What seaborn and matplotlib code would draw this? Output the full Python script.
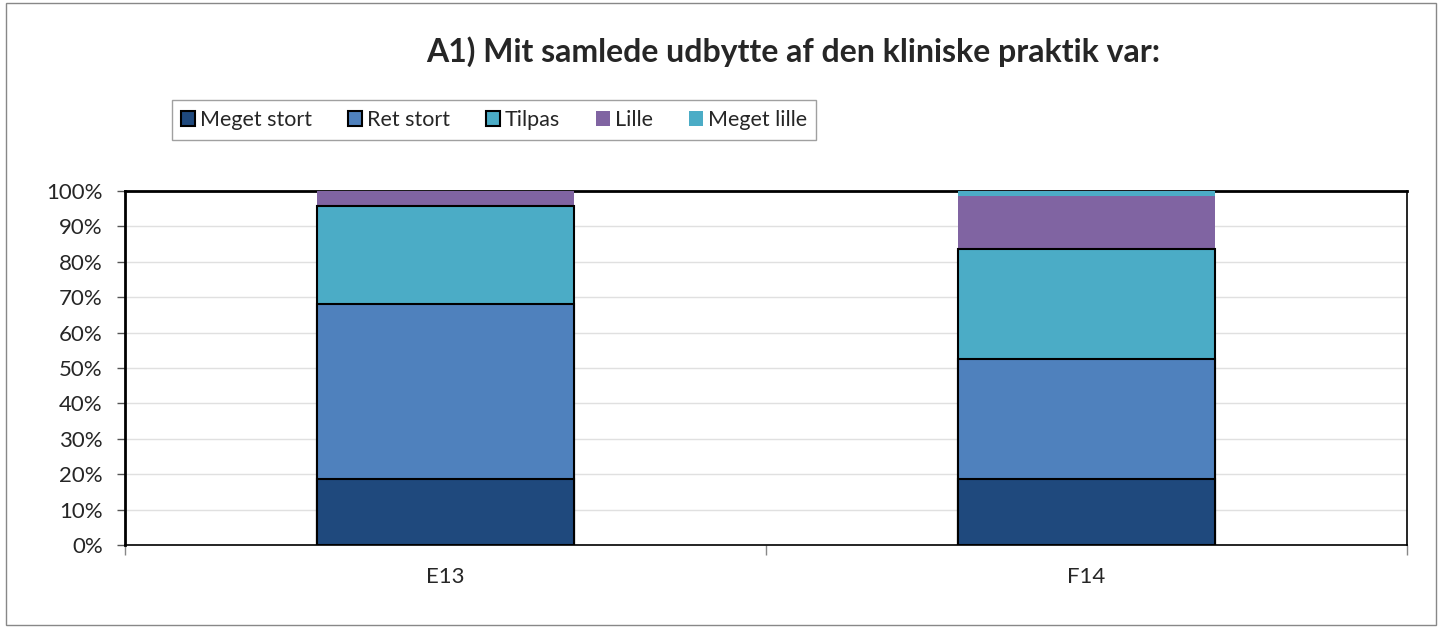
import pandas as pd
import numpy as np
import matplotlib
matplotlib.use('Agg')
import matplotlib.pyplot as plt
import seaborn as sns
from matplotlib.patches import Patch, Rectangle

# data (percent)
semesters = ['E13', 'F14']
levels = ['Meget stort', 'Ret stort', 'Tilpas', 'Lille', 'Meget lille']
meget_stort = [18.6, 18.6]
ret_stort = [49.5, 33.9]
tilpas = [27.7, 31.1]
lille = [4.2, 15.0]
meget_lille = [0.0, 1.4]

colors = ['#1F497D', '#4F81BD', '#4BACC6', '#8064A2', '#4BACC6']
edged = [True, True, True, False, False]

sns.set_style('white')
plt.rcParams['font.family'] = ['Lato', 'DejaVu Sans']

df = pd.DataFrame({'semester': semesters, 'Meget stort': meget_stort, 'Ret stort': ret_stort,
                   'Tilpas': tilpas, 'Lille': lille, 'Meget lille': meget_lille})
cum = df[levels].cumsum(axis=1)
cum['semester'] = df['semester']

fig = plt.figure(figsize=(14.42, 6.28), dpi=100)
ax = fig.add_axes([125 / 1442, 1 - 545 / 628, 1282 / 1442, 354 / 628])

# draw cumulative bars from top layer down so lower layers cover the upper ones
for lvl, col, e in reversed(list(zip(levels, colors, edged))):
    sns.barplot(data=cum, x='semester', y=lvl, color=col, width=0.4, ax=ax,
                edgecolor='black' if e else col, linewidth=1.5 if e else 0,
                saturation=1, zorder=3)

ax.set_ylim(0, 100)
ax.set_xlim(-0.5, 1.5)
ax.set_yticks(np.arange(0, 101, 10))
ax.set_yticklabels([f'{v}%' for v in range(0, 101, 10)], fontsize=16)
ax.set_xticks([0, 1])
ax.set_xticklabels(semesters, fontsize=16)
ax.set_xlabel('')
ax.set_ylabel('')
ax.yaxis.grid(True, color='#e0e0e0', linewidth=1, zorder=0)
ax.set_axisbelow(True)
for s in ax.spines.values():
    s.set_visible(True)
    s.set_color('black')
    s.set_linewidth(1.2)
ax.spines['left'].set_linewidth(2)
ax.spines['top'].set_linewidth(2)
ax.tick_params(axis='y', length=6, width=1, color='#555555', left=True, pad=10)
ax.tick_params(axis='x', length=0, pad=16)
# minor ticks between categories, like Excel
ax.set_xticks([-0.5, 0.5, 1.5], minor=True)
ax.tick_params(axis='x', which='minor', length=7, width=1, color='#888888', bottom=True)

fig.text(793 / 1442, 1 - 52 / 628, 'A1) Mit samlede udbytte af den kliniske praktik var:',
         ha='center', va='center', fontsize=23, fontweight='bold')

handles = [Patch(facecolor=c, edgecolor='black' if e else c, linewidth=1.5 if e else 0)
           for c, e in zip(colors, edged)]
leg = fig.legend(handles, levels, loc='center', bbox_to_anchor=(494 / 1442, 1 - 120 / 628),
                 ncol=5, fontsize=15.5, frameon=True, fancybox=False, edgecolor='#888888',
                 handlelength=0.65, handleheight=0.65, handletextpad=0.2, columnspacing=1.7,
                 borderpad=0.45, borderaxespad=0)
leg.get_frame().set_linewidth(1)

fig.patches.append(Rectangle((0.004, 0.004), 0.992, 0.992, transform=fig.transFigure,
                             fill=False, edgecolor='#888888', linewidth=1))

fig.savefig('out.png', dpi=100)
